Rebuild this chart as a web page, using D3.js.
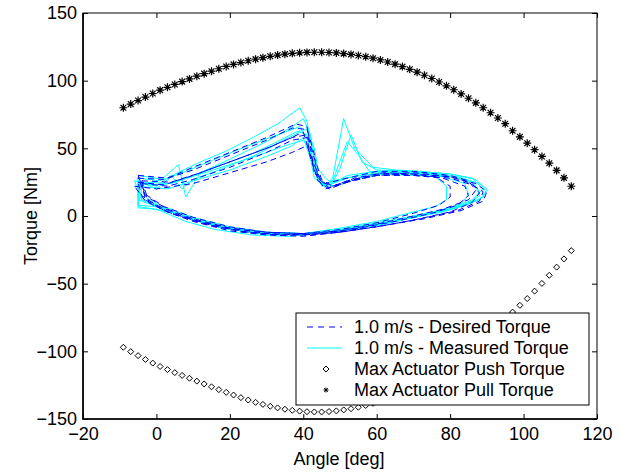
<!DOCTYPE html>
<html><head><meta charset="utf-8">
<script src="https://cdn.jsdelivr.net/npm/d3@7/dist/d3.min.js"></script>
<style>body{margin:0;background:#fff}svg{display:block}text{font-family:"Liberation Sans",Arial,sans-serif}</style>
</head><body><svg id="c" width="626" height="472"></svg>
<script>
const xTicks = [-20, 0, 20, 40, 60, 80, 100, 120];
const yTicks = [-150, -100, -50, 0, 50, 100, 150];
const xLabel = "Angle [deg]";
const yLabel = "Torque [Nm]";
const legendLabels = ["1.0 m/s - Desired Torque", "1.0 m/s - Measured Torque", "Max Actuator Push Torque", "Max Actuator Pull Torque"];

const limitAngles = [-9,-7,-5,-3,-1,1,3,5,7,9,11,13,15,17,19,21,23,25,27,29,31,33,35,37,39,41,43,45,47,49,51,53,55,57,59,61,63,65,67,69,71,73,75,77,79,81,83,85,87,89,91,93,95,97,99,101,103,105,107,109,111,113];
const pullTorque = [80,82.7,85.3,87.9,90.5,93.0,95.1,97.2,99.3,101.3,103.3,105.2,107.0,108.8,110.5,112.0,113.4,114.7,115.9,117.0,118.0,118.9,119.6,120.2,120.6,120.9,121.0,121.0,120.8,120.5,120.0,119.4,118.6,117.7,116.6,115.3,113.8,112.2,110.4,108.4,106.3,104.0,101.6,99.0,96.2,93.3,90.2,87.0,83.6,80.0,76.3,72.4,68.2,63.0,58.5,53.8,49.0,44.0,39.0,33.7,28.2,22.0];
const pushTorque = [-97,-100.2,-103.2,-106.0,-108.7,-111.2,-113.5,-115.7,-117.8,-119.9,-122.0,-124.1,-126.2,-128.3,-130.3,-132.3,-134.2,-136.0,-137.7,-139.2,-140.6,-141.8,-142.8,-143.6,-144.2,-144.6,-144.8,-144.8,-144.5,-144.0,-143.3,-142.4,-141.3,-140.0,-138.4,-136.6,-134.5,-132.2,-129.6,-126.8,-123.8,-120.6,-117.2,-113.6,-109.8,-105.8,-101.7,-98.8,-94.5,-90.0,-85.5,-81.0,-76.0,-71.0,-66.0,-61.0,-55.5,-49.8,-43.8,-37.8,-31.7,-25.6];

// desired torque, one [angle, torque] list per gait cycle
const desiredCycles = [
 [[-5,28],[2,27],[10,34],[20,45],[30,56],[37,65],[41,64],[43,46],[44,28],[47,21],[52,26],[60,31],[70,32],[80,29],[86,24],[88,17],[86,10],[80,3],[70,-3],[60,-8],[50,-12],[40,-14],[30,-13],[20,-9],[10,-2],[3,5],[-3,15],[-5,28]],
 [[-4,24],[3,22],[10,27],[20,36],[30,47],[37,56],[41,58],[42,42],[44,27],[46,20],[52,25],[60,30],[70,30],[80,28],[86,23],[89,18],[88,11],[82,4],[72,-2],[62,-7],[50,-12],[40,-15],[30,-14],[20,-11],[10,-4],[2,4],[-3,12],[-4,24]],
 [[-6,22],[0,20],[10,24],[20,32],[30,40],[37,47],[41,52],[43,38],[45,25],[48,22],[54,28],[62,32],[70,31],[76,29],[80,22],[80,14],[77,8],[70,2],[60,-5],[50,-10],[40,-13],[30,-12],[20,-9],[10,-3],[3,3],[-3,11],[-6,22]],
 [[-5,30],[3,28],[10,36],[20,47],[30,58],[38,68],[41,66],[42,50],[43,32],[46,24],[52,28],[60,33],[70,33],[80,30],[85,26],[87,19],[85,12],[78,5],[70,0],[60,-6],[50,-11],[40,-13],[30,-12],[20,-8],[10,-1],[2,7],[-3,16],[-5,30]],
 [[-5,25],[2,23],[10,30],[20,40],[30,50],[37,58],[41,60],[43,43],[45,27],[48,22],[54,27],[62,31],[70,30],[78,28],[84,22],[85,15],[82,8],[75,2],[65,-4],[55,-9],[45,-13],[35,-14],[25,-12],[15,-7],[7,0],[0,8],[-4,15],[-5,25]],
 [[-4,26],[4,25],[12,32],[22,42],[30,50],[36,57],[40,62],[42,44],[44,26],[47,20],[53,26],[60,30],[70,31],[80,29],[87,24],[90,18],[89,11],[83,4],[73,-2],[62,-7],[52,-11],[42,-14],[32,-14],[22,-11],[12,-5],[4,2],[-2,10],[-4,26]]
];

// measured torque, one [angle, torque] list per gait cycle
const measuredCycles = [
 [[-5,26],[0,20],[5,31],[12,40],[19,48],[27,59],[33,68],[39,80],[41,70],[42,55],[44,30],[46,22],[48,28],[51,72],[54,50],[59,36],[65,34],[72,33],[80,31],[86,28],[89,20],[86,12],[80,5],[70,-1],[60,-7],[50,-11],[40,-13],[30,-12],[20,-8],[10,-1],[3,6],[-5,8],[-4,20],[-5,26]],
 [[-5,28],[1,26],[6,38],[8,14],[12,32],[20,42],[30,55],[37,66],[40,72],[42,60],[43,40],[44,26],[47,20],[50,35],[53,60],[56,40],[60,34],[70,33],[80,31],[87,27],[90,19],[88,12],[82,6],[72,0],[62,-6],[52,-10],[42,-13],[32,-13],[22,-10],[12,-4],[4,3],[-5,7],[-5,28]],
 [[-5,22],[3,20],[10,26],[20,34],[30,44],[37,52],[40,58],[42,42],[43,28],[46,22],[48,24],[52,28],[60,32],[70,31],[76,29],[79,22],[79,12],[76,7],[70,3],[60,-4],[50,-9],[40,-13],[30,-12],[20,-9],[10,-2],[3,4],[-4,12],[-5,22]],
 [[-5,30],[2,27],[8,33],[16,42],[25,52],[33,60],[39,66],[41,58],[42,45],[44,30],[45,22],[48,26],[52,55],[55,45],[58,33],[65,32],[74,31],[82,29],[88,24],[90,20],[89,14],[84,8],[76,3],[66,-3],[56,-8],[46,-12],[36,-15],[26,-14],[16,-10],[8,-4],[0,5],[-5,6],[-5,30]],
 [[-4,25],[4,24],[12,31],[20,38],[28,45],[35,52],[40,56],[42,48],[43,32],[45,24],[49,22],[55,28],[62,31],[70,30],[78,29],[84,24],[85,16],[83,9],[77,4],[68,-1],[58,-6],[48,-11],[38,-14],[28,-13],[18,-9],[10,-3],[3,4],[-3,14],[-4,25]],
 [[-6,26],[0,22],[4,30],[7,20],[10,27],[18,35],[27,45],[34,55],[39,62],[41,60],[42,48],[44,30],[46,21],[48,26],[55,30],[64,32],[73,32],[81,29],[86,25],[88,18],[86,11],[80,5],[70,-1],[60,-7],[50,-11],[40,-14],[30,-13],[20,-9],[10,-2],[2,6],[-4,13],[-6,26]],
 [[-5,24],[2,23],[9,29],[18,38],[26,46],[33,55],[38,62],[41,64],[43,50],[44,35],[46,28],[48,24],[52,30],[60,33],[68,33],[76,31],[82,28],[87,22],[88,15],[85,9],[78,3],[68,-2],[58,-7],[48,-11],[38,-14],[28,-13],[18,-9],[9,-2],[1,6],[-5,12],[-5,24]]
];

const svg = d3.select("#c");
const L = 83, R = 597, T = 13, B = 419;
const x = d3.scaleLinear().domain([-20, 120]).range([L, R]);
const y = d3.scaleLinear().domain([-150, 150]).range([B, T]);
const fs = 18;
const ff = '"Liberation Sans", Arial, sans-serif';

const line = d3.line().x(d => x(d[0])).y(d => y(d[1]));

svg.append("g").selectAll("path").data(measuredCycles).join("path")
  .attr("d", line).attr("fill", "none").attr("stroke", "#00ffff").attr("stroke-width", 1);
svg.append("g").selectAll("path").data(desiredCycles).join("path")
  .attr("d", line).attr("fill", "none").attr("stroke", "#0000ff").attr("stroke-width", 1)
  .attr("stroke-dasharray", "6,4");

function diamond(g, cx, cy, r) {
  g.append("path").attr("d", `M${cx},${cy - r}L${cx + r},${cy}L${cx},${cy + r}L${cx - r},${cy}Z`)
    .attr("fill", "none").attr("stroke", "#000").attr("stroke-width", 1);
}
function asterisk(g, cx, cy, r, w) {
  const d = r * 0.72;
  g.append("path").attr("d", `M${cx - r},${cy}H${cx + r}M${cx},${cy - r}V${cy + r}M${cx - d},${cy - d}L${cx + d},${cy + d}M${cx - d},${cy + d}L${cx + d},${cy - d}`)
    .attr("fill", "none").attr("stroke", "#000").attr("stroke-width", w);
}
const gPush = svg.append("g");
limitAngles.forEach((a, i) => diamond(gPush, x(a), y(pushTorque[i]), 3));
const gPull = svg.append("g");
limitAngles.forEach((a, i) => asterisk(gPull, x(a), y(pullTorque[i]), 4, 1.2));

function styleAxis(g, showLabels) {
  g.select(".domain").remove();
  g.selectAll(".tick line").attr("stroke", "#000");
  g.selectAll("text").attr("font-size", fs).attr("fill", "#000").style("font-family", ff);
  if (!showLabels) g.selectAll("text").remove();
}
svg.append("g").attr("transform", `translate(0,${B})`)
  .call(d3.axisBottom(x).tickValues(xTicks).tickSize(-5).tickPadding(8).tickFormat(d3.format("d")))
  .call(g => styleAxis(g, true));
svg.append("g").attr("transform", `translate(0,${T})`)
  .call(d3.axisTop(x).tickValues(xTicks).tickSize(-5))
  .call(g => styleAxis(g, false));
svg.append("g").attr("transform", `translate(${L},0)`)
  .call(d3.axisLeft(y).tickValues(yTicks).tickSize(-5).tickPadding(6).tickFormat(d3.format("d")))
  .call(g => styleAxis(g, true));
svg.append("g").attr("transform", `translate(${R},0)`)
  .call(d3.axisRight(y).tickValues(yTicks).tickSize(-5))
  .call(g => styleAxis(g, false));
svg.append("rect").attr("x", L).attr("y", T).attr("width", R - L).attr("height", B - T)
  .attr("fill", "none").attr("stroke", "#000").attr("stroke-width", 1);
svg.append("path").attr("d", `M${L},${T}V${B}H${R}`).attr("fill", "none").attr("stroke", "#000").attr("stroke-width", 1.6);

svg.append("text").attr("x", 339).attr("y", 465).attr("text-anchor", "middle")
  .attr("font-size", fs).text(xLabel);
svg.append("text").attr("transform", `translate(37,${(T + B) / 2}) rotate(-90)`).attr("text-anchor", "middle")
  .attr("font-size", fs).text(yLabel);

const lg = svg.append("g");
lg.append("rect").attr("x", 296).attr("y", 313).attr("width", 293).attr("height", 92)
  .attr("fill", "#fff").attr("stroke", "#000").attr("stroke-width", 1);
const rows = [327, 348, 369, 390];
lg.append("line").attr("x1", 307).attr("x2", 342).attr("y1", rows[0]).attr("y2", rows[0])
  .attr("stroke", "#0000ff").attr("stroke-dasharray", "6,5");
lg.append("line").attr("x1", 307).attr("x2", 342).attr("y1", rows[1]).attr("y2", rows[1])
  .attr("stroke", "#00ffff");
diamond(lg, 326, rows[2], 3);
asterisk(lg, 326, rows[3], 2.5, 1);
legendLabels.forEach((t, i) => {
  lg.append("text").attr("x", 354).attr("y", rows[i] + 6).attr("font-size", fs).text(t);
});
</script></body></html>
